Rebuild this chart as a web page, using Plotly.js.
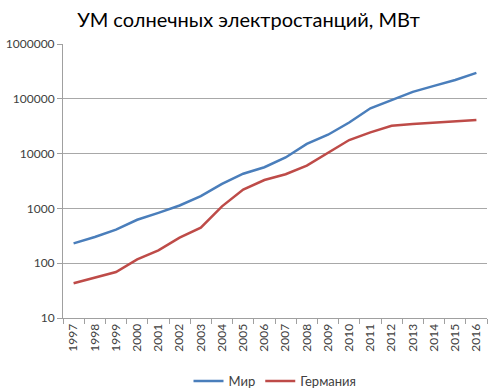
<!DOCTYPE html>
<html><head><meta charset="utf-8">
<script src="https://cdn.plot.ly/plotly-3.0.1.min.js"></script>
<style>html,body{margin:0;padding:0;background:#fff}#chart{width:497px;height:392px}</style>
</head><body><div id="chart"></div>
<script>
const years = ["1997","1998","1999","2000","2001","2002","2003","2004","2005","2006","2007","2008","2009","2010","2011","2012","2013","2014","2015","2016"];
const world = [230,300,410,620,830,1130,1670,2800,4300,5640,8500,15000,22100,37000,67000,95000,134000,172000,221000,297000];
const germany = [43,55,69,117,172,293,446,1090,2200,3300,4200,6050,10500,17700,24400,32300,34700,37000,38700,41000];
const yTickVals = [10,100,1000,10000,100000,1000000];
const yTickText = ["10","100","1000","10000","100000","1000000"];
const seriesNames = ["Мир","Германия"];

const font = "Lato, 'Open Sans', sans-serif";
const data = [
  {x: years, y: world, name: seriesNames[0], type: "scatter", mode: "lines",
   line: {color: "#4A7EBB", width: 2.5}},
  {x: years, y: germany, name: seriesNames[1], type: "scatter", mode: "lines",
   line: {color: "#BE4B48", width: 2.5}}
];
const layout = {
  width: 497, height: 392,
  margin: {l: 63, r: 10, t: 44, b: 74},
  paper_bgcolor: "#fff", plot_bgcolor: "#fff",
  font: {family: font, color: "#404040", size: 12},
  title: {text: "УМ солнечных электростанций, МВт", x: 0.5, xanchor: "center",
          yref: "container", y: 0.95, yanchor: "middle",
          font: {family: font, size: 20, color: "#000"}},
  xaxis: {type: "category", range: [-0.5, 19.5], tickangle: -90, tickson: "boundaries", ticks: "outside", ticklen: 5,
          tickcolor: "#a0a0a0", showline: true, linecolor: "#a0a0a0", linewidth: 1,
          showgrid: false, zeroline: false, automargin: false, tickfont: {size: 12, color: "#404040"}},
  yaxis: {type: "log", range: [1, 6], tickvals: yTickVals, ticktext: yTickText, automargin: false,
          ticks: "outside", ticklen: 5, tickcolor: "#a0a0a0", showline: true, linecolor: "#a0a0a0",
          gridcolor: "#a8a8a8", gridwidth: 1, zeroline: false, tickfont: {size: 12, color: "#404040"}},
  legend: {orientation: "h", x: 0.5, xanchor: "center", yref: "container", y: 0.028, yanchor: "middle",
           font: {size: 13, color: "#404040"}},
  showlegend: true
};
Plotly.newPlot("chart", data, layout, {staticPlot: true, displayModeBar: false});
</script></body></html>
